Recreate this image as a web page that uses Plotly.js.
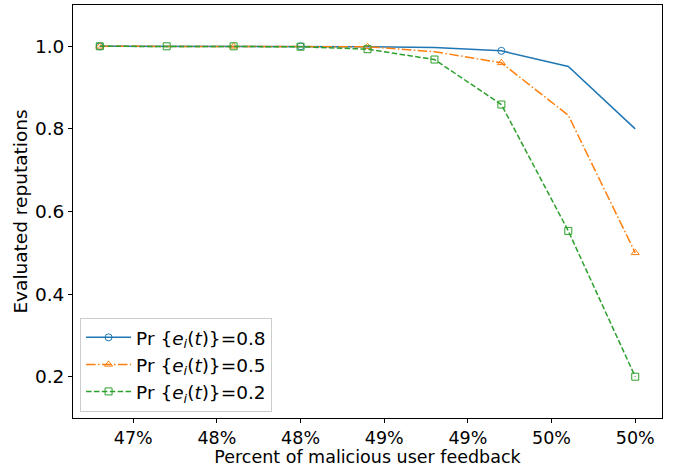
<!DOCTYPE html>
<html>
<head>
<meta charset="utf-8">
<script src="https://cdn.plot.ly/plotly-3.0.1.min.js"></script>
<style>html,body{margin:0;padding:0;background:#fff;}#chart{width:686px;height:467px;}</style>
</head>
<body>
<div id="chart"></div>
<script>
// Percent of malicious user feedback (x, in %)
var xPercent = [46.8, 47.2, 47.6, 48.0, 48.4, 48.8, 49.2, 49.6, 50.0];
// Evaluated reputations for each probability setting
var rep08 = [1.0, 1.0, 1.0, 1.0, 0.999, 0.997, 0.989, 0.951, 0.80];
var rep05 = [1.0, 1.0, 1.0, 1.0, 0.999, 0.987, 0.960, 0.833, 0.50];
var rep02 = [1.0, 1.0, 1.0, 0.999, 0.993, 0.968, 0.859, 0.553, 0.20];
var seriesNames = [
  'Pr {<i>e<sub>i</sub></i>(<i>t</i>)}=0.8',
  'Pr {<i>e<sub>i</sub></i>(<i>t</i>)}=0.5',
  'Pr {<i>e<sub>i</sub></i>(<i>t</i>)}=0.2'
];
var xTickVals = [47, 47.5, 48, 48.5, 49, 49.5, 50];
var xTickText = ['47%', '48%', '48%', '49%', '49%', '50%', '50%'];

var colors = ['#1f77b4', '#ff7f0e', '#2ca02c'];
var dashes = ['solid', '9.6px,2.4px,1.5px,2.4px', '5.5px,2.4px'];
var symbols = ['circle-open', 'triangle-up-open', 'square-open'];
var every = [3, 2, 1];
var ys = [rep08, rep05, rep02];

var traces = [];
ys.forEach(function (y, k) {
  traces.push({
    x: xPercent, y: y, mode: 'lines', showlegend: false, hoverinfo: 'skip',
    line: {color: colors[k], width: 1.5, dash: dashes[k]}
  });
  traces.push({
    x: xPercent.filter(function (_, i) { return i % every[k] === 0; }),
    y: y.filter(function (_, i) { return i % every[k] === 0; }),
    mode: 'markers', showlegend: false,
    marker: {symbol: symbols[k], size: 7, color: colors[k], line: {width: 1, color: colors[k]}}
  });
});
ys.forEach(function (y, k) {
  traces.push({
    x: [null], y: [null], mode: 'lines+markers', name: seriesNames[k],
    line: {color: colors[k], width: 1.5, dash: dashes[k]},
    marker: {symbol: symbols[k], size: 7, color: colors[k], line: {width: 1, color: colors[k]}}
  });
});

var layout = {
  width: 686, height: 467,
  margin: {l: 73, r: 24, t: 5, b: 49},
  paper_bgcolor: '#fff', plot_bgcolor: '#fff',
  font: {family: 'DejaVu Sans', size: 18, color: '#000'},
  xaxis: {
    range: [46.64, 50.16],
    tickvals: xTickVals, ticktext: xTickText,
    ticks: 'outside', ticklen: 4, tickcolor: '#000', tickwidth: 1,
    tickfont: {size: 17.5},
    showgrid: false, zeroline: false,
    showline: true, mirror: true, linecolor: '#000', linewidth: 1,
    title: {text: 'Percent of malicious user feedback', standoff: 6, font: {size: 17.5}}
  },
  yaxis: {
    range: [0.1, 1.1],
    tick0: 0, dtick: 0.2, tickformat: '.1f',
    ticks: 'outside', ticklen: 4, tickcolor: '#000', tickwidth: 1,
    tickfont: {size: 18.5},
    showgrid: false, zeroline: false,
    showline: true, mirror: true, linecolor: '#000', linewidth: 1,
    title: {text: 'Evaluated reputations', standoff: 2, font: {size: 18.5}}
  },
  legend: {
    x: 0.012, y: 0.015, xanchor: 'left', yanchor: 'bottom',
    bgcolor: 'rgba(255,255,255,0.8)', bordercolor: '#cccccc', borderwidth: 1,
    font: {size: 18.5}, itemwidth: 45, tracegroupgap: 0
  },
  showlegend: true
};

Plotly.newPlot('chart', traces, layout, {displayModeBar: false, staticPlot: true});
</script>
</body>
</html>
